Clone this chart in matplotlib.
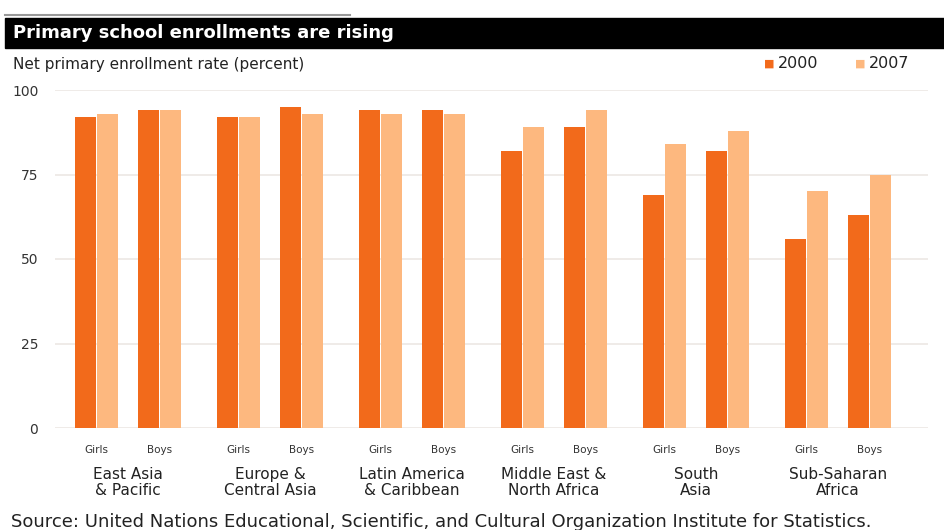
import matplotlib
matplotlib.use("Agg")
import matplotlib.pyplot as plt
import numpy as np

plt.rcParams['font.family'] = ['DejaVu Sans']

# data
regions = ["East Asia\n& Pacific", "Europe &\nCentral Asia", "Latin America\n& Caribbean",
           "Middle East &\nNorth Africa", "South\nAsia", "Sub-Saharan\nAfrica"]
girls_2000 = [92, 92, 94, 82, 69, 56]
girls_2007 = [93, 92, 93, 89, 84, 70]
boys_2000 = [94, 95, 94, 89, 82, 63]
boys_2007 = [94, 93, 93, 94, 88, 75]
yticks = [0, 25, 50, 75, 100]

c2000 = '#f26a1b'
c2007 = '#fdb87f'

fig = plt.figure(figsize=(9.45, 5.3), dpi=100)

# title band
fig.patches.append(plt.Rectangle((5/945, 1 - 48/530), 940/945, 30/530,
                                 transform=fig.transFigure, color='black', zorder=0))
fig.lines.append(plt.Line2D([5/945, 350/945], [1 - 15/530, 1 - 15/530],
                            transform=fig.transFigure, color='#999999', lw=1.5))
fig.text(13/945, 1 - 33/530, "Primary school enrollments are rising", color='white',
         fontsize=13, fontweight='bold', va='center', ha='left')
fig.text(13/945, 1 - 64/530, "Net primary enrollment rate (percent)", fontsize=11,
         va='center', ha='left', color='#222222')

# legend
fig.text(764/945, 1 - 64/530, "\u25a0", color=c2000, fontsize=8, va='center', ha='left')
fig.text(778/945, 1 - 64/530, "2000", fontsize=11.5, va='center', ha='left', color='#222222')
fig.text(855/945, 1 - 64/530, "\u25a0", color=c2007, fontsize=8, va='center', ha='left')
fig.text(869/945, 1 - 64/530, "2007", fontsize=11.5, va='center', ha='left', color='#222222')

ax = fig.add_axes([55/945, 102/530, 873/945, 338/530])
x = np.arange(len(regions))
off = 0.222
w = 0.148
gap = 0.08
ax.bar(x - off - gap, girls_2000, w, color=c2000, zorder=3)
ax.bar(x - off + gap, girls_2007, w, color=c2007, zorder=3)
ax.bar(x + off - gap, boys_2000, w, color=c2000, zorder=3)
ax.bar(x + off + gap, boys_2007, w, color=c2007, zorder=3)

ax.set_xlim(-0.514, 5.634)
ax.set_ylim(0, 100)
for s in ax.spines.values():
    s.set_visible(False)
ax.set_yticks(yticks)
ax.set_yticklabels([str(v) for v in yticks], fontsize=10, color='#333333')
ax.tick_params(axis='y', length=0, pad=12)
ax.yaxis.grid(True, color='#ece8e4', lw=1.2, zorder=0)
ax.set_xticks([])

for i in x:
    ax.text(i - off, -5, "Girls", fontsize=7.5, ha='center', va='top', color='#333333')
    ax.text(i + off, -5, "Boys", fontsize=7.5, ha='center', va='top', color='#333333')
    ax.text(i, -11.5, regions[i], fontsize=11, ha='center', va='top', color='#222222',
            linespacing=1.1)

fig.text(11/945, 1 - 522/530, "Source: United Nations Educational, Scientific, and Cultural "
         "Organization Institute for Statistics.", fontsize=13, va='center', ha='left',
         color='#222222')

fig.savefig("out.png", dpi=100)
